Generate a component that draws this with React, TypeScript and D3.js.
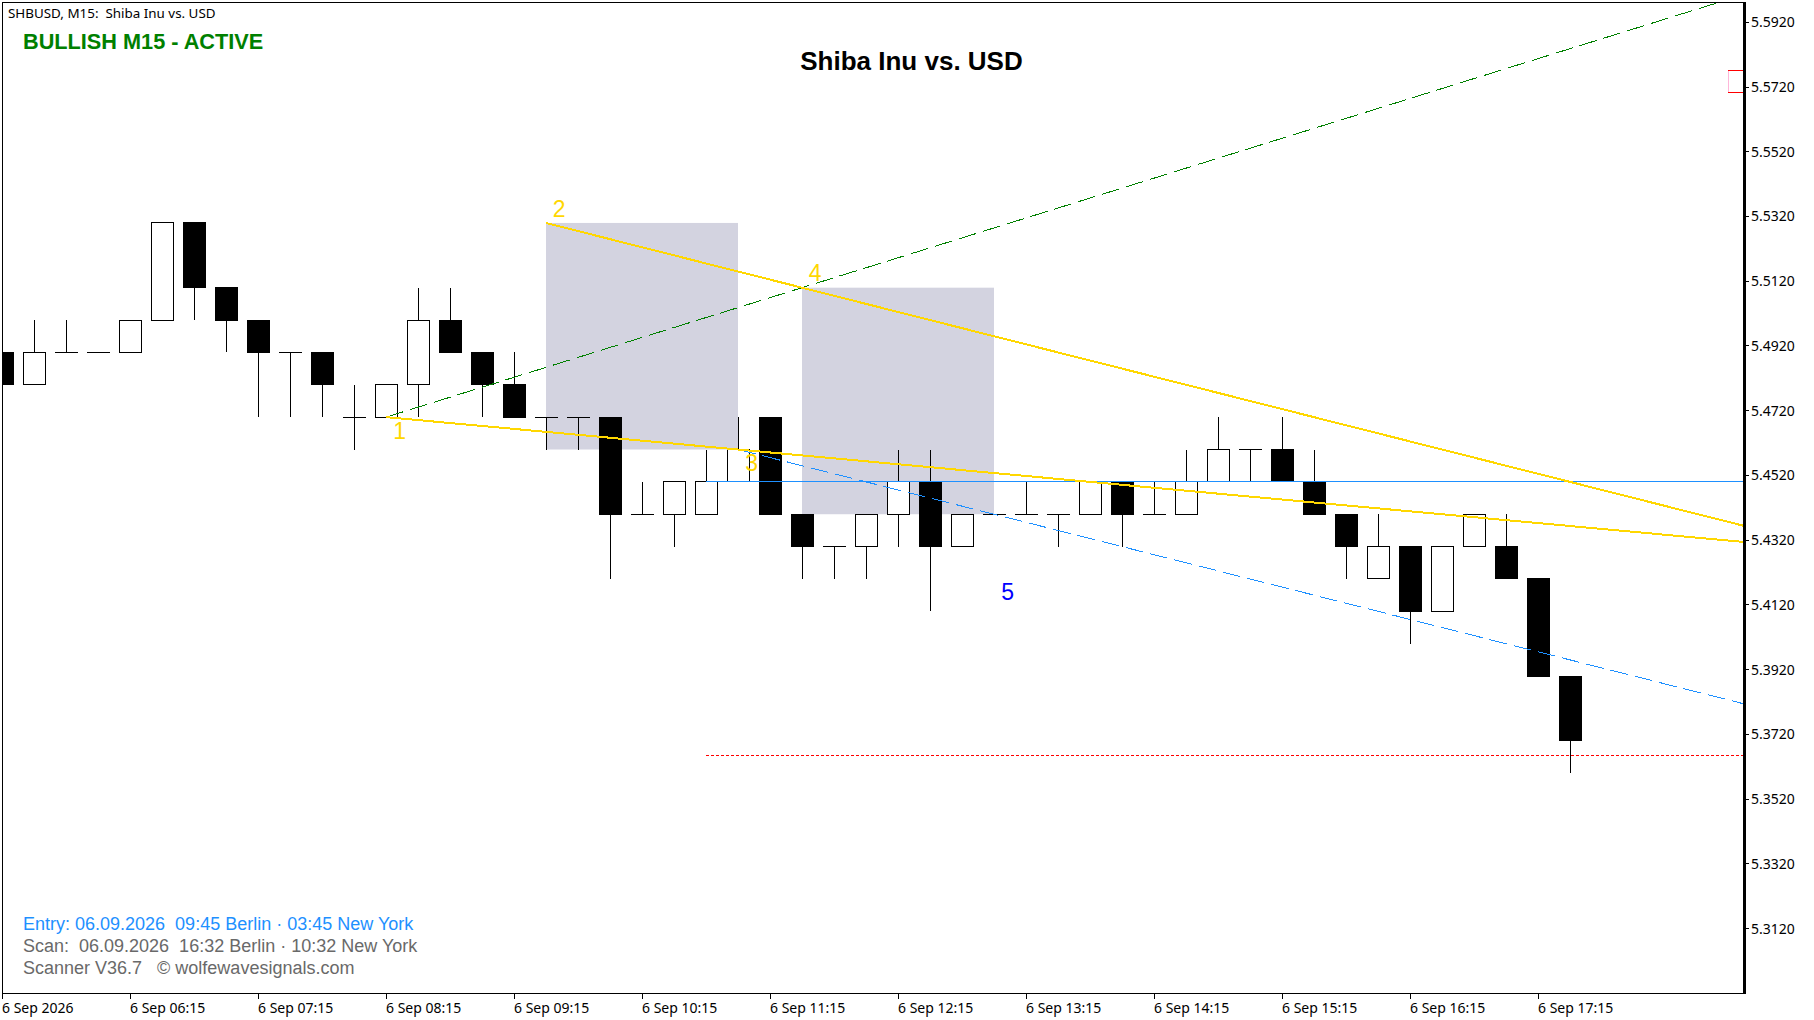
import React from 'react';
import * as d3 from 'd3';

// OHLC, one entry per M15 bar
const opens = [5.49, 5.48, 5.49, 5.49, 5.49, 5.50, 5.53, 5.51, 5.50, 5.49, 5.49, 5.47, 5.47, 5.48, 5.50, 5.49, 5.48, 5.47, 5.47, 5.47, 5.44, 5.44, 5.44, 5.45, 5.47, 5.44, 5.43, 5.43, 5.44, 5.45, 5.43, 5.44, 5.44, 5.44, 5.44, 5.45, 5.44, 5.44, 5.45, 5.46, 5.46, 5.45, 5.44, 5.42, 5.43, 5.41, 5.43, 5.43, 5.42, 5.39];
const highs = [5.49, 5.50, 5.50, 5.49, 5.50, 5.53, 5.53, 5.51, 5.50, 5.49, 5.49, 5.48, 5.48, 5.51, 5.51, 5.49, 5.49, 5.47, 5.47, 5.47, 5.45, 5.45, 5.46, 5.47, 5.47, 5.44, 5.43, 5.44, 5.46, 5.46, 5.44, 5.44, 5.45, 5.44, 5.45, 5.45, 5.45, 5.46, 5.47, 5.46, 5.47, 5.46, 5.44, 5.44, 5.43, 5.43, 5.44, 5.44, 5.42, 5.39];
const lows = [5.48, 5.48, 5.49, 5.49, 5.49, 5.50, 5.50, 5.49, 5.47, 5.47, 5.47, 5.46, 5.47, 5.47, 5.49, 5.47, 5.47, 5.46, 5.46, 5.42, 5.44, 5.43, 5.44, 5.45, 5.44, 5.42, 5.42, 5.42, 5.43, 5.41, 5.43, 5.44, 5.44, 5.43, 5.44, 5.43, 5.44, 5.44, 5.45, 5.45, 5.45, 5.44, 5.42, 5.42, 5.40, 5.41, 5.43, 5.42, 5.39, 5.36];
const closes = [5.48, 5.49, 5.49, 5.49, 5.50, 5.53, 5.51, 5.50, 5.49, 5.49, 5.48, 5.47, 5.48, 5.50, 5.49, 5.48, 5.47, 5.47, 5.47, 5.44, 5.44, 5.45, 5.45, 5.46, 5.44, 5.43, 5.43, 5.44, 5.45, 5.43, 5.44, 5.44, 5.44, 5.44, 5.45, 5.44, 5.44, 5.45, 5.46, 5.46, 5.45, 5.44, 5.43, 5.43, 5.41, 5.43, 5.44, 5.42, 5.39, 5.37];

const priceTicks = [5.592, 5.572, 5.552, 5.532, 5.512, 5.492, 5.472, 5.452, 5.432, 5.412, 5.392, 5.372, 5.352, 5.332, 5.312];
const timeTicks = ['6 Sep 2026', '6 Sep 06:15', '6 Sep 07:15', '6 Sep 08:15', '6 Sep 09:15', '6 Sep 10:15', '6 Sep 11:15', '6 Sep 12:15', '6 Sep 13:15', '6 Sep 14:15', '6 Sep 15:15', '6 Sep 16:15', '6 Sep 17:15'];

// wolfe wave pivots: [bar, price]
const p1: [number, number] = [12, 5.47];
const p2: [number, number] = [17, 5.53];
const p3: [number, number] = [23, 5.46];
const p4: [number, number] = [25, 5.51];

// zones: bar from, bar to, price top, price bottom
const zones = [
    [17, 23, 5.53, 5.46],
    [25, 31, 5.51, 5.44],
];

const waveLabels = [
    { text: '1', bar: 12.43, price: 5.4658, color: '#FFD700' },
    { text: '2', bar: 17.41, price: 5.5343, color: '#FFD700' },
    { text: '3', bar: 23.43, price: 5.4558, color: '#FFD700' },
    { text: '4', bar: 25.41, price: 5.5145, color: '#FFD700' },
    { text: '5', bar: 31.43, price: 5.4161, color: '#0000FF' },
];

const entryLevel = 5.45;
const stopLevel = 5.3655;
const levelStartBar = 22;
const markerTop = 5.577;
const markerBottom = 5.5702;

const infoLines = [
    { text: 'Entry: 06.09.2026  09:45 Berlin · 03:45 New York', color: '#1E90FF', y: 929.5 },
    { text: 'Scan:  06.09.2026  16:32 Berlin · 10:32 New York', color: '#696969', y: 951.5 },
    { text: 'Scanner V36.7   © wolfewavesignals.com', color: '#696969', y: 973.5 },
];

const W = 1814;
const H = 1020;
const plotRight = 1744;
const plotBottom = 993.5;
const bodyW = 22;
const lastBar = 54.44;

const x = d3.scaleLinear().domain([0, 1]).range([2, 34]);
const y = d3.scaleLinear().domain([5.592, 5.312]).range([22.3, 928.5]);

// extend a line through two pivots to the given bar
const extend = (a: [number, number], b: [number, number], bar: number) =>
    a[1] + ((b[1] - a[1]) / (b[0] - a[0])) * (bar - a[0]);

const line = d3.line<[number, number]>().x(d => x(d[0])).y(d => y(d[1]));

export default function App() {
    const axisFont = '"Noto Sans", sans-serif';
    const textFont = '"Liberation Sans", Arial, sans-serif';
    // the channel through 3 runs parallel to 2-4
    const slope = (p4[1] - p2[1]) / (p4[0] - p2[0]);

    return (
        <svg
            width={W}
            height={H}
            viewBox={`0 0 ${W} ${H}`}
            style={{ position: 'absolute', left: 0, top: 0, background: '#fff', whiteSpace: 'pre' }}
        >
            <defs>
                <clipPath id="plot">
                    <rect x={2} y={2} width={plotRight - 2} height={plotBottom - 2} />
                </clipPath>
            </defs>

            <g clipPath="url(#plot)">
                {zones.map((z, i) => (
                    <rect
                        key={i}
                        x={x(z[0])}
                        y={y(z[2])}
                        width={x(z[1]) - x(z[0])}
                        height={y(z[3]) - y(z[2])}
                        fill="#D3D3E0"
                    />
                ))}

                {opens.map((open, i) => {
                    const close = closes[i];
                    const up = close >= open;
                    const top = y(Math.max(open, close));
                    const bottom = y(Math.min(open, close));
                    const cx = Math.round(x(i));
                    return (
                        <g key={i} shapeRendering="crispEdges">
                            <line x1={cx + 0.5} x2={cx + 0.5} y1={y(highs[i])} y2={y(lows[i])} stroke="#000" strokeWidth={1} />
                            {open === close ? (
                                <line x1={cx - bodyW / 2} x2={cx + bodyW / 2 + 1} y1={top} y2={top} stroke="#000" strokeWidth={1} />
                            ) : (
                                <rect
                                    x={cx - bodyW / 2 + 0.5}
                                    y={top}
                                    width={bodyW}
                                    height={bottom - top}
                                    fill={up ? '#fff' : '#000'}
                                    stroke="#000"
                                    strokeWidth={1}
                                />
                            )}
                        </g>
                    );
                })}

                {/* green target line 1-4 */}
                <path
                    d={line([p1, [lastBar, extend(p1, p4, lastBar)]]) as string}
                    fill="none"
                    stroke="#008000"
                    strokeWidth={1}
                    strokeDasharray="18 7"
                    shapeRendering="crispEdges"
                />
                {/* blue parallel from 3 */}
                <path
                    d={line([p3, [lastBar, p3[1] + slope * (lastBar - p3[0])]]) as string}
                    fill="none"
                    stroke="#1E90FF"
                    strokeWidth={1}
                    strokeDasharray="18 7"
                    shapeRendering="crispEdges"
                />
                {/* entry and stop levels */}
                <line
                    x1={x(levelStartBar)}
                    x2={plotRight}
                    y1={y(entryLevel)}
                    y2={y(entryLevel)}
                    stroke="#1E90FF"
                    strokeWidth={1}
                    shapeRendering="crispEdges"
                />
                <line
                    x1={x(levelStartBar)}
                    x2={plotRight}
                    y1={y(stopLevel)}
                    y2={y(stopLevel)}
                    stroke="#FF0000"
                    strokeWidth={1}
                    strokeDasharray="3 2"
                    shapeRendering="crispEdges"
                />
                {/* yellow wedge lines */}
                <path
                    d={line([p1, [lastBar, extend(p1, p3, lastBar)]]) as string}
                    fill="none"
                    stroke="#FFD700"
                    strokeWidth={2}
                    shapeRendering="crispEdges"
                />
                <path
                    d={line([p2, [lastBar, extend(p2, p4, lastBar)]]) as string}
                    fill="none"
                    stroke="#FFD700"
                    strokeWidth={2}
                    shapeRendering="crispEdges"
                />

                {/* small red marker at the right edge */}
                <g shapeRendering="crispEdges" strokeWidth={1}>
                    <line x1={plotRight - 16} x2={plotRight - 16} y1={y(markerTop)} y2={y(markerBottom)} stroke="#FFB6D9" />
                    <line x1={plotRight - 16} x2={plotRight} y1={y(markerTop)} y2={y(markerTop)} stroke="#FF0000" />
                    <line x1={plotRight - 16} x2={plotRight} y1={y(markerBottom)} y2={y(markerBottom)} stroke="#FF0000" />
                </g>
            </g>

            {waveLabels.map(d => (
                <text
                    key={d.text}
                    x={x(d.bar)}
                    y={y(d.price)}
                    fill={d.color}
                    fontFamily={textFont}
                    fontSize={23}
                    textAnchor="middle"
                    dominantBaseline="central"
                >
                    {d.text}
                </text>
            ))}

            {/* frame */}
            <g shapeRendering="crispEdges">
                <line x1={2} x2={2} y1={2} y2={plotBottom} stroke="#000" strokeWidth={1} />
                <line x1={2} x2={plotRight} y1={2} y2={2} stroke="#000" strokeWidth={1} />
                <line x1={2} x2={plotRight} y1={plotBottom} y2={plotBottom} stroke="#000" strokeWidth={1} />
                <line x1={plotRight} x2={plotRight} y1={2} y2={plotBottom} stroke="#000" strokeWidth={3} />
            </g>

            {priceTicks.map(t => (
                <g key={t}>
                    <line x1={plotRight + 1} x2={plotRight + 5} y1={y(t)} y2={y(t)} stroke="#000" strokeWidth={1} shapeRendering="crispEdges" />
                    <text x={plotRight + 7} y={y(t) + 5} fontFamily={axisFont} fontSize={14} fill="#000">
                        {t.toFixed(4)}
                    </text>
                </g>
            ))}

            {timeTicks.map((t, i) => (
                <g key={t}>
                    <line x1={x(i * 4)} x2={x(i * 4)} y1={plotBottom} y2={plotBottom + 5} stroke="#000" strokeWidth={1} shapeRendering="crispEdges" />
                    <text x={x(i * 4)} y={1013} fontFamily={axisFont} fontSize={14} fill="#000">
                        {t}
                    </text>
                </g>
            ))}

            <text x={8} y={18} fontFamily={axisFont} fontSize={13.4} fill="#000" xmlSpace="preserve">
                {'SHBUSD, M15:  Shiba Inu vs. USD'}
            </text>
            <text x={23} y={48.5} fontFamily={textFont} fontSize={21.7} fontWeight="bold" fill="#008000">
                BULLISH M15 - ACTIVE
            </text>
            <text x={911.5} y={70} fontFamily={textFont} fontSize={26} fontWeight="bold" fill="#000" textAnchor="middle">
                Shiba Inu vs. USD
            </text>

            {infoLines.map(d => (
                <text key={d.y} x={23} y={d.y} fontFamily={textFont} fontSize={18} fill={d.color} xmlSpace="preserve">
                    {d.text}
                </text>
            ))}
        </svg>
    );
}
